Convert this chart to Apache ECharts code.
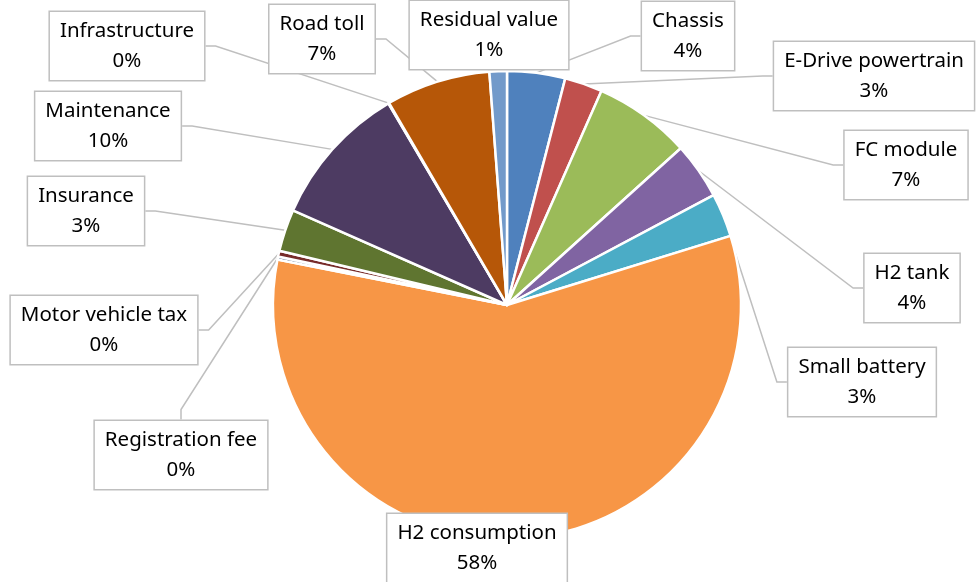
<!DOCTYPE html>
<html lang="en">
<head>
  <meta charset="UTF-8">
  <title>Cost breakdown</title>
  <script src="https://cdn.jsdelivr.net/npm/echarts@6/dist/echarts.min.js"></script>
  <style>
    html, body { margin: 0; padding: 0; background: #fff; }
    #main { width: 977px; height: 582px; }
  </style>
</head>
<body>
  <div id="main"></div>
  <script>
    // categories, clockwise from 12 o'clock
    var categories = ['Chassis', 'E-Drive powertrain', 'FC module', 'H2 tank', 'Small battery',
      'H2 consumption', 'Registration fee', 'Motor vehicle tax', 'Insurance', 'Maintenance',
      'Infrastructure', 'Road toll', 'Residual value']
    // share in %
    var shares = [4.0, 2.6, 6.7, 3.9, 3.0, 57.8, 0.2, 0.4, 2.9, 9.9, 0.05, 7.2, 1.2]
    var colors = ['#4F81BD', '#C0504D', '#9BBB59', '#8064A2', '#4BACC6', '#F79646', '#2C4D75',
      '#772C2A', '#5F7530', '#4D3B62', '#276A7C', '#B65708', '#729ACA']

    // callout box centres (layout only)
    var labelPos = [[688, 36], [874, 76], [906, 165], [912, 288], [862, 382], [477, 548], [181, 455],
      [104, 330], [86, 211], [108, 126], [127, 46], [322, 39], [489, 35]]

    var total = shares.reduce(function (a, b) { return a + b }, 0)
    var pieData = categories.map(function (c, i) {
      return { name: c, value: shares[i], itemStyle: { color: colors[i] } }
    })

    var chart = echarts.init(document.getElementById('main'))
    var option = {
      backgroundColor: '#fff',
      animation: false,
      series: [{
        type: 'pie',
        center: [507, 305],
        radius: 234,
        startAngle: 90,
        clockwise: true,
        avoidLabelOverlap: false,
        itemStyle: { borderColor: '#fff', borderWidth: 2.5 },
        label: {
          show: true,
          position: 'outside',
          formatter: function (p) {
            return p.name + '\n' + Math.round(p.value / total * 100) + '%'
          },
          fontFamily: 'Noto Sans',
          fontSize: 20.5,
          lineHeight: 30,
          color: '#000',
          align: 'center',
          backgroundColor: '#fff',
          borderColor: '#bfbfbf',
          borderWidth: 1.5,
          padding: [4, 10]
        },
        labelLine: {
          show: true,
          length: 10,
          length2: 10,
          lineStyle: { color: '#bfbfbf', width: 1.5 }
        },
        labelLayout: function (params) {
          var p = labelPos[params.dataIndex]
          return { x: p[0], y: p[1], align: 'center', verticalAlign: 'middle' }
        },
        data: pieData
      }]
    }
    chart.setOption(option)
  </script>
</body>
</html>
